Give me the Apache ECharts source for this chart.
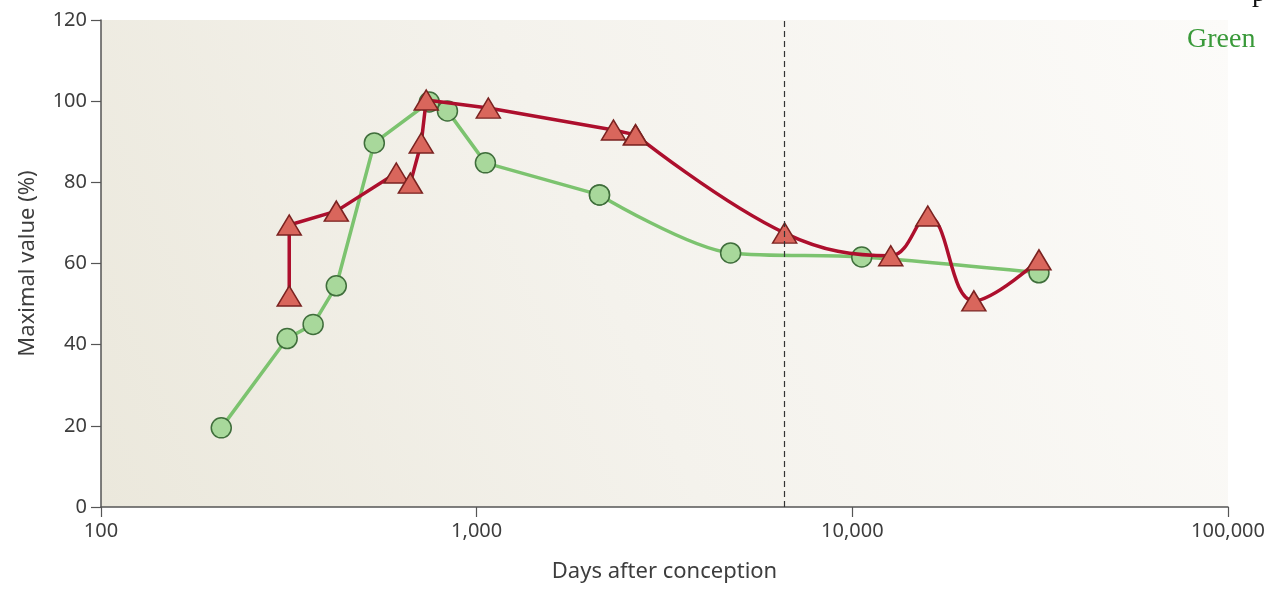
<!DOCTYPE html>
<html>
<head>
<meta charset="utf-8">
<script src="https://cdn.jsdelivr.net/npm/echarts@6/dist/echarts.min.js"></script>
<style>
  html, body { margin: 0; padding: 0; background: #ffffff; }
  #chart { width: 1272px; height: 589px; }
</style>
</head>
<body>
<div id="chart"></div>
<script>
// Green series (circles): days after conception, maximal value (%)
const greenDays   = [209, 313, 367, 423, 534, 748, 836, 1055, 2123, 4742, 10593, 31390];
const greenValues = [19.5, 41.5, 45, 54.5, 89.7, 99.8, 97.6, 84.8, 76.9, 62.6, 61.6, 57.7];

// Red series (triangles)
const redDays   = [317, 317, 423, 611, 666, 712, 734, 1074, 2313, 2648, 6604, 12655, 15880, 21060, 31390];
const redValues = [52.0, 69.5, 72.9, 82.3, 79.8, 89.7, 100.3, 98.3, 92.9, 91.7, 67.5, 61.9, 71.7, 50.8, 60.9];

// Index where each curve switches from straight segments to a smoothed tail
const greenCurveFrom = 8;
const redCurveFrom = 9;

// Vertical dashed reference line position (days)
const markerDay = 6600;

// Axis settings
const xTicks = [100, 1000, 10000, 100000];
const yTicks = [0, 20, 40, 60, 80, 100, 120];

const pair = (xs, ys) => xs.map((x, i) => [x, ys[i]]);
const greenPts = pair(greenDays, greenValues);
const redPts = pair(redDays, redValues);

const chart = echarts.init(document.getElementById('chart'), null, { renderer: 'canvas' });

const tickFont = { fontFamily: 'Noto Sans', fontSize: 20, color: '#3d3d3d' };

const greenLine = { color: '#7cc36f', width: 3.5 };
const greenItem = { color: '#a8d89b', borderColor: '#3f6e3b', borderWidth: 1.5 };
const redLine = { color: '#ad0f2d', width: 3.5 };
const redItem = { color: '#d9665c', borderColor: '#7a2220', borderWidth: 1.5 };

chart.setOption({
  animation: false,
  backgroundColor: '#ffffff',
  grid: {
    left: 101, right: 44, top: 20, bottom: 82,
    show: true,
    borderWidth: 0,
    backgroundColor: new echarts.graphic.LinearGradient(0, 1, 1, 0, [
      { offset: 0, color: '#ebe8dc' },
      { offset: 0.45, color: '#f4f2ec' },
      { offset: 1, color: '#fcfbf9' }
    ])
  },
  xAxis: {
    type: 'log',
    logBase: 10,
    min: xTicks[0],
    max: xTicks[xTicks.length - 1],
    name: 'Days after conception',
    nameLocation: 'middle',
    nameGap: 54,
    nameTextStyle: { fontFamily: 'Noto Sans', fontSize: 22, color: '#3d3d3d' },
    axisLine: { show: true, lineStyle: { color: '#555555', width: 1.5 } },
    axisTick: { show: true, inside: false, length: 10, lineStyle: { color: '#555555', width: 1.2 } },
    minorTick: { show: false },
    splitLine: { show: false },
    axisLabel: {
      ...tickFont,
      margin: 14,
      formatter: v => Math.round(v).toLocaleString('en-US')
    }
  },
  yAxis: {
    type: 'value',
    min: yTicks[0],
    max: yTicks[yTicks.length - 1],
    interval: 20,
    name: 'Maximal value (%)',
    nameLocation: 'middle',
    nameRotate: 90,
    nameGap: 62,
    nameTextStyle: { fontFamily: 'Noto Sans', fontSize: 22, color: '#3d3d3d' },
    axisLine: { show: true, onZero: false, lineStyle: { color: '#555555', width: 1.5 } },
    axisTick: { show: true, inside: false, length: 10, lineStyle: { color: '#555555', width: 1.2 } },
    splitLine: { show: false },
    axisLabel: { ...tickFont, margin: 14 }
  },
  series: [
    {
      name: 'Green',
      type: 'line',
      data: greenPts.slice(0, greenCurveFrom + 1),
      smooth: false,
      symbol: 'circle',
      symbolSize: 20,
      z: 2,
      lineStyle: greenLine,
      itemStyle: greenItem,
      markLine: {
        silent: true,
        symbol: 'none',
        label: { show: false },
        lineStyle: { color: '#333333', type: [6, 4], width: 1.2 },
        data: [{ xAxis: markerDay }]
      }
    },
    {
      name: 'Green',
      type: 'line',
      data: greenPts.slice(greenCurveFrom),
      smooth: 0.3,
      symbol: 'circle',
      symbolSize: 20,
      z: 2,
      lineStyle: greenLine,
      itemStyle: greenItem
    },
    {
      name: 'Red',
      type: 'line',
      data: redPts.slice(0, redCurveFrom + 1),
      smooth: false,
      symbol: 'triangle',
      symbolSize: [24, 20],
      z: 3,
      lineStyle: redLine,
      itemStyle: redItem
    },
    {
      name: 'Red',
      type: 'line',
      data: redPts.slice(redCurveFrom),
      smooth: 0.4,
      symbol: 'triangle',
      symbolSize: [24, 20],
      z: 3,
      lineStyle: redLine,
      itemStyle: redItem
    }
  ],
  graphic: [
    {
      type: 'text',
      left: 1187,
      top: 26,
      style: { text: 'Green', font: '28px "Liberation Serif"', fill: '#3a9a3a' }
    },
    {
      type: 'text',
      left: 1252,
      top: -20,
      style: { text: 'p', font: '28px "Liberation Serif"', fill: '#111111' }
    }
  ]
});
</script>
</body>
</html>
